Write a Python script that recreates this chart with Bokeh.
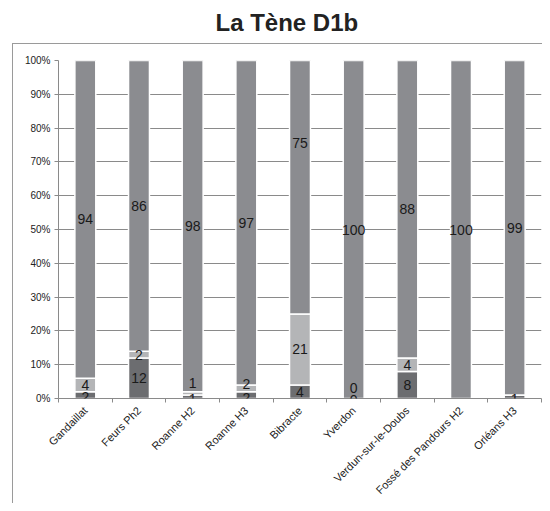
import numpy as np
from math import pi
from bokeh.plotting import figure
from bokeh.models import FixedTicker, Range1d, ColumnDataSource, LabelSet, Title
from bokeh.core.properties import value
from bokeh.embed import file_html
from bokeh.resources import INLINE

sites = ["Gandaillat", "Feurs Ph2", "Roanne H2", "Roanne H3", "Bibracte",
         "Yverdon", "Verdun-sur-le-Doubs", "Fossé des Pandours H2", "Orléans H3"]
dark = [2, 12, 1, 2, 4, 0, 8, 0, 1]
light = [4, 2, 1, 2, 21, 0, 4, 0, 0]
grey = [94, 86, 98, 97, 75, 100, 88, 100, 99]
# which values carry a data label in the reference
dark_shown = [1, 1, 1, 1, 1, 1, 1, 0, 1]
light_shown = [1, 1, 1, 1, 1, 1, 1, 0, 0]
grey_shown = [1, 1, 1, 1, 1, 1, 1, 1, 1]
y_ticks = [0, 10, 20, 30, 40, 50, 60, 70, 80, 90, 100]
title_text = "La Tène D1b"

# label nudges (style, in percent units)
dark_nudge = [-0.7, 0, -0.5, -0.7, 0, -0.5, 0, 0, -0.5]
light_nudge = [0, 0, 3, 1.4, 0, 3.2, 0, 0, 0]
grey_nudge = [0, 0, 0, 0, 13, 0, 0, 0, 0]

n = len(sites)
xs = np.arange(n) + 0.5
tot = np.array(dark, float) + np.array(light) + np.array(grey)
d_pct = np.array(dark) / tot * 100
l_pct = np.array(light) / tot * 100
g_pct = np.array(grey) / tot * 100
b1 = d_pct
b2 = d_pct + l_pct
b3 = b2 + g_pct

C_DARK = "#6c6d70"
C_LIGHT = "#b4b5b7"
C_GREY = "#8b8c90"
BOX = "#9a9a9a"

p = figure(width=542, height=503, output_backend="svg", toolbar_location=None, title=None,
           x_range=Range1d(0, n), y_range=Range1d(0, 100),
           min_border_left=58, min_border_right=1, min_border_top=60, min_border_bottom=105)
p.outline_line_color = None
p.background_fill_color = "white"
p.border_fill_color = None
p.styles = {
    "background": (f"linear-gradient({BOX},{BOX}) 12px 43px / 1px 1000px no-repeat, "
                   f"linear-gradient({BOX},{BOX}) 12px 43px / 1000px 1px no-repeat, white")
}

# spacer between frame and title, then the title itself
p.add_layout(Title(text=" ", text_font_size="1px", standoff=22), "above")
p.add_layout(Title(text=title_text, align="left", offset=157, standoff=0,
                   vertical_align="bottom", text_font="Liberation Sans",
                   text_font_style="bold", text_font_size="24px",
                   text_color="#222222"), "above")

bw = 0.39
p.vbar(x=xs, width=bw, bottom=0, top=b1, fill_color=C_DARK, line_color="white", line_width=1.5)
p.vbar(x=xs, width=bw, bottom=b1, top=b2, fill_color=C_LIGHT, line_color="white", line_width=1.5)
p.vbar(x=xs, width=bw, bottom=b2, top=b3, fill_color=C_GREY, line_color="white", line_width=1.5)

lx, ly, lt = [], [], []
for i in range(n):
    if dark_shown[i]:
        lx.append(xs[i]); ly.append(b1[i] / 2 + dark_nudge[i]); lt.append(str(dark[i]))
    if light_shown[i]:
        lx.append(xs[i]); ly.append((b1[i] + b2[i]) / 2 + light_nudge[i]); lt.append(str(light[i]))
    if grey_shown[i]:
        lx.append(xs[i]); ly.append((b2[i] + b3[i]) / 2 + grey_nudge[i]); lt.append(str(grey[i]))
src = ColumnDataSource(dict(x=lx, y=ly, t=lt))
p.add_layout(LabelSet(x="x", y="y", text="t", source=src, text_align="center",
                      text_baseline="middle", text_font=value("Liberation Sans"),
                      text_font_size="14px", text_color="#1a1a1a"))

# axes
p.yaxis.ticker = FixedTicker(ticks=y_ticks)
p.yaxis.major_label_overrides = {t: f"{t}%" for t in y_ticks}
p.yaxis.axis_line_color = "#8a8a8a"
p.yaxis.major_tick_line_color = "#8a8a8a"
p.yaxis.major_tick_out = 4
p.yaxis.major_tick_in = 0
p.yaxis.minor_tick_line_color = None
p.yaxis.major_label_text_font = "Liberation Sans"
p.yaxis.major_label_text_font_size = "10px"
p.yaxis.major_label_text_color = "#222222"
p.yaxis.major_label_standoff = 4

p.xaxis.ticker = FixedTicker(ticks=list(xs), minor_ticks=list(range(n + 1)))
p.xaxis.major_label_overrides = {float(x): s for x, s in zip(xs, sites)}
p.xaxis.major_label_orientation = pi / 4
p.xaxis.axis_line_color = "#8a8a8a"
p.xaxis.major_tick_line_color = None
p.xaxis.minor_tick_line_color = "#8a8a8a"
p.xaxis.minor_tick_out = 4
p.xaxis.minor_tick_in = 0
p.xaxis.major_label_text_font = "Liberation Sans"
p.xaxis.major_label_text_font_size = "11px"
p.xaxis.major_label_text_color = "#222222"
p.xaxis.major_label_standoff = 4

p.xgrid.grid_line_color = None
p.ygrid.grid_line_color = "#8a8a8a"
p.ygrid.grid_line_width = 1

open("out.html", "w").write(file_html(p, INLINE))
